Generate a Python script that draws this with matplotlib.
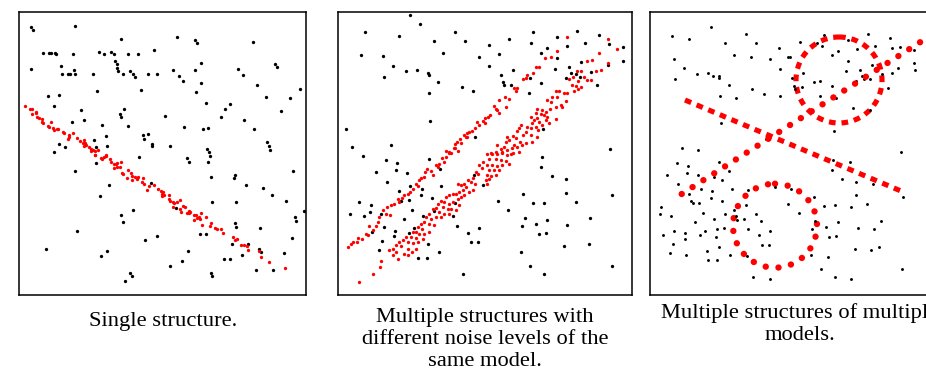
import numpy as np
import matplotlib
matplotlib.use("Agg")
import matplotlib.pyplot as plt
from matplotlib.patches import Circle

# all values in image pixel units (x right, y down)

# ---- panel 1: single structure ----
p1_noise = [
    (31.3, 26.7), (32.7, 30), (74.7, 26), (121.3, 39), (43.3, 53.3), (49.3, 53.3), (50.7, 53.3),
    (55.3, 52.7), (56.3, 53.7), (73.3, 53.7), (98.7, 51.7), (104.3, 53.7), (111, 51.7), (113.7, 53.7),
    (128.3, 53.7), (137.7, 53.7), (154.3, 50), (31.3, 69.3), (61.3, 66), (62.3, 73.7), (68, 73.7),
    (69.7, 73.7), (73.7, 70), (75.3, 73.7), (92.7, 73.7), (115.3, 60.7), (116.7, 64.3), (117.3, 67.7),
    (118, 71.3), (123.3, 73.7), (130, 71.3), (132.7, 73.7), (135.3, 76.7), (147.7, 73.7), (157, 73.7),
    (96.7, 91.3), (141, 89.7), (47.7, 96.3), (59.3, 95.3), (53.7, 105.7), (81.3, 110), (123.7, 108.7),
    (120, 113.7), (121, 117.3), (72, 121.7), (83.7, 120.3), (102.3, 124.7), (128, 126.3), (105.7, 135.7),
    (142.7, 135.3), (144, 139), (148.3, 134), (152.3, 144), (152.3, 145.7), (94, 140.3), (58.7, 144),
    (65.3, 147.3), (96, 147), (107.3, 145.7), (53.7, 152.3),
    (177, 37.3), (195.3, 39.7), (197, 43.3), (252.7, 42.3), (201, 63.3), (275.3, 63.7), (276.7, 67.3),
    (173.3, 70.3), (195.3, 70.3), (238.3, 69), (179, 75.7), (242.7, 75), (182.7, 81), (201, 83.3),
    (256.7, 85.3), (299.7, 89.3), (196.3, 91.7), (265.7, 96.7), (290, 97.7), (206, 103), (230, 104.3),
    (225.3, 109.3), (280.7, 110.7), (165.3, 115.7), (220.7, 117.3), (244.3, 120.3), (184.3, 126.7),
    (202.7, 129), (208.3, 127.7), (254.3, 129.3), (170, 145.7), (207, 148.7), (208.7, 152.3),
    (267.3, 142.3), (268.7, 145.7), (270.3, 149.7),
    (139.3, 156.7), (96.3, 162.7), (75.3, 171), (109, 185), (151.3, 183.3), (99.7, 196.3), (133, 210.3),
    (121.3, 214.7), (123.3, 222), (76.7, 230.7), (157.3, 235.7), (145.3, 240.3), (46.3, 249),
    (107.3, 251), (101, 256), (130.3, 273), (131.7, 276.3), (125, 281.3),
    (187, 158.3), (189, 162.3), (207.7, 162.3), (210.3, 156), (211.3, 176.7), (233.7, 177.7),
    (235.3, 175), (245.7, 184.7), (263, 187.7), (272, 195.3), (293.3, 171.3), (285.7, 200.7),
    (304, 211.3), (294.7, 217), (296.3, 220.7), (212, 201.7), (235.7, 202), (176, 208.3),
    (234.7, 223.3), (236.3, 227), (259.7, 227.7), (200, 234), (206, 234), (291.7, 238.3),
    (231.7, 244.3), (248.3, 244.3), (259, 248.7), (260.7, 252.3), (241.7, 254.7), (283.7, 253),
    (188.3, 250.7), (224, 259.3), (229.7, 259.3), (181.7, 260.7), (169.7, 265.7), (256, 269.7),
    (272.7, 269.7), (211, 272.7), (212.3, 276),
]
p1_inliers = [
    (25.3, 105.7), (30.3, 108.7), (32, 109.3), (31.7, 113.7), (36, 111.7), (36.3, 113.3), (37, 116.7),
    (39, 117.7), (42.3, 119), (42.3, 122), (42.7, 123.3), (50.7, 121.7), (47.7, 126.3), (49, 127.3),
    (53.3, 128), (53.7, 130), (57.3, 129.3), (58.3, 128.7), (62.7, 132), (64.3, 133.3), (69.3, 135),
    (68.7, 137), (67.7, 139), (73.3, 133.3), (77, 137.7), (80, 141), (83.3, 143.3), (84.3, 139.7),
    (85, 143.3), (83.7, 146), (85.7, 145), (89.3, 146.7), (90.7, 149.3), (91.3, 151.3), (93, 150),
    (95.3, 151.3), (98, 150.3), (94.7, 154.7), (105.7, 154.7), (94.7, 155.3), (100.7, 158),
    (102, 159.3), (104, 156.7), (106, 156), (109.7, 159.3), (110.7, 161.7), (114, 163.7), (115.7, 164),
    (117.3, 163), (114.3, 168), (117.3, 166.7), (120, 167), (121.3, 161.7), (123.3, 174), (122, 173.3),
    (127.3, 177.7), (127.7, 170.3), (130.7, 173), (132, 180.3), (132.3, 176), (135.3, 176.7),
    (137.3, 179.3), (138, 177.3), (142.7, 178), (142.3, 182), (143.7, 184.3), (147.3, 190),
    (148.7, 186), (154, 184.7), (157.7, 189), (162, 194), (161.3, 191.3), (162.7, 192.3), (164, 194.7),
    (162, 195.7), (168.7, 194.7), (169, 199), (169.7, 201.3), (173.3, 201.7), (174.3, 203),
    (177.3, 202.3), (180.3, 199.7), (180, 208.7), (173.3, 207), (182.7, 206), (185.3, 207.3),
    (181.3, 212), (189.3, 210.7), (189, 213), (190.3, 212), (186.7, 213.3), (194.3, 215.3),
    (196, 214.7), (197.3, 217.7), (199.3, 217.3), (200.3, 219), (193.7, 220), (201, 213.3),
    (206.3, 216.7), (201.7, 224.7), (211, 222.7), (209.7, 226), (215.3, 227.7), (217.3, 229.3),
    (221.3, 229.3), (222.7, 232.7), (233.3, 236.7), (235.3, 240.3), (237.3, 239.3), (240.7, 244.7),
    (244, 245), (247.3, 246), (248.3, 249.7), (258.7, 250.7), (261.3, 257.3), (269.3, 262.3),
    (285, 267.7),
]

# ---- panel 2: two structures, different noise ----
p2_noise = [
    (410, 15.3), (420.3, 24.3), (365, 32.3), (398.7, 36.3), (455, 31.7), (434.3, 40.7), (465.3, 40.7),
    (361, 54.7), (383, 56.3), (443.3, 53), (479, 56.7), (393.3, 65.7), (406, 71.3), (416.7, 70.3),
    (428, 72.7), (428.7, 75.3), (384.3, 76.7), (438.3, 82), (461.7, 86.7), (473.3, 91.3), (429, 93),
    (430.3, 120.7), (346.3, 129), (475, 137), (352.3, 147), (391, 145.3),
    (533, 32.3), (577, 31.3), (556.7, 36.7), (599, 35), (509.3, 39.3), (488.7, 45), (531, 43.3),
    (566.7, 46), (585, 43.3), (609, 44.3), (547.3, 48.3), (541.3, 52.7), (623.3, 47.3), (499, 54.3),
    (557.3, 57.7), (580.7, 62.3), (623.3, 61), (489.3, 66), (569, 67), (555, 69), (513, 70.3),
    (590.7, 71.7), (607.7, 65.3), (501.3, 75), (571.3, 73.3), (575.7, 74.3), (565.7, 78.3), (580, 76.7),
    (529.7, 78.3), (503, 81.7), (504.3, 85), (511.3, 84.7), (541.3, 83.3), (596.7, 85.3), (529, 93),
    (543, 128.7), (610.3, 148.7),
    (362.7, 156.3), (386, 160.3), (397, 163.3), (428.7, 158.7), (396.3, 169.7), (376.3, 172.3),
    (407.3, 172.7), (439.7, 168.7), (387, 181.7), (398.7, 190.7), (410, 186.3), (422, 188.7),
    (441, 186.3), (420.7, 195.3), (432.3, 197.7), (401.3, 200.7), (409, 200.3), (359.3, 202.3),
    (370.7, 204.7), (349.7, 213.7), (364.3, 215.7), (369.7, 211.7), (380.7, 214), (412, 210),
    (422.7, 215.7), (434, 211), (454.7, 203), (453.3, 216.3), (404.3, 218.7), (383.7, 227.3),
    (372, 232), (394.7, 230.7), (394.3, 235.7), (408.7, 232.7), (414.3, 228), (456.7, 226.3),
    (467.7, 232.7), (479.3, 228), (470.7, 242), (477.7, 242), (382, 241.3), (428, 244), (378.7, 250.3),
    (439.3, 252.3), (417.7, 258), (426.7, 258), (462.7, 274.3), (473.7, 175.3), (483, 184.7),
    (542.3, 157.3), (541.3, 167.3), (551.7, 176.3), (565.7, 179.3), (523.3, 194), (565.7, 192.7),
    (612, 194.7), (497.7, 200.7), (533.3, 203.3), (544, 203), (575.7, 201.7), (507.7, 210),
    (524.7, 218), (547.3, 219.7), (589.7, 218), (521.7, 226.3), (535.7, 224.3), (567.3, 224.7),
    (538.7, 234), (545.7, 233.3), (564, 246), (588.7, 244), (520.7, 252.3), (530.3, 266),
    (611.7, 266), (543.7, 274.3),
]
p2_low_noise = [
    (347.7, 247), (351, 243.7), (352.7, 242), (356.7, 242), (357.7, 238), (362, 238.7), (366, 233.7),
    (367.7, 235.3), (369.3, 226), (373.3, 230.3), (376, 226), (377.7, 222), (378.7, 217), (382.7, 210.3),
    (386, 213.7), (386.7, 207.3), (390, 214.7), (391, 205.3), (394.3, 203.7), (397.7, 199.3),
    (399.3, 202), (402, 198), (404.3, 195.3), (407.7, 193.7), (410, 192), (413.3, 188.7), (416, 183.7),
    (417.7, 186), (418.7, 180.3), (421, 178), (424.3, 177), (425.3, 172), (426.7, 168.7), (431, 171.3),
    (432.7, 175.3), (436, 164.7), (437.7, 167), (439.3, 163.7), (442, 158), (444.3, 162), (446, 157),
    (448.7, 152.7), (446, 151.3), (449.3, 152), (451, 153.3), (453.7, 148.3), (455.3, 148.3),
    (457.7, 150.7), (454.7, 144), (457.3, 141.7), (460, 139.3), (460.7, 142.7), (463.7, 135.3),
    (465.7, 136.7), (467.3, 136.7), (467, 133.3), (469.3, 131.7), (471.7, 130.7), (475.3, 127.7),
    (476.7, 121.7), (479, 124.7), (482.7, 121), (484.7, 118), (485, 123.3), (488, 117.3), (490, 115),
    (494, 106), (495.7, 108.7), (497.3, 110), (498.7, 112.7), (498.7, 100), (505.3, 97.3), (509, 99.3),
    (505.7, 106.7), (514, 88.3), (515.7, 91.3), (517.3, 88.3), (523.3, 79.3), (525.7, 77.7),
    (527.3, 75.3), (533.3, 72.7), (535.7, 67.3), (539.3, 67.3), (544.7, 57.7), (550.7, 56.7),
    (557.3, 50.7), (566.7, 36.7),
]
p2_high_noise = [
    (358.7, 282), (373.3, 273.7), (380, 267), (381, 261.3), (398.3, 259.3), (392.7, 255.3),
    (389.3, 250.3), (392.7, 248.7), (396, 252), (404.3, 253.7), (407.7, 255.3), (412, 252),
    (407.7, 248.7), (416, 248.7), (396, 245.3), (401, 246), (399.3, 242), (402.7, 240.3), (407.7, 242),
    (412.7, 242.7), (417.7, 242), (411, 237), (406, 237), (416, 238), (422.7, 239.3), (412.7, 232),
    (416, 232), (419.3, 233.7), (424.3, 233.7), (429.3, 232), (417.7, 227), (422, 229.3), (421, 223.7),
    (424.3, 222), (429.3, 223.7), (434.3, 224.7), (426, 217), (431, 218.7), (436, 217), (441, 217),
    (429.3, 213.7), (439.3, 212), (444.3, 213.7), (449.3, 213.7), (432.7, 208.7), (436, 208),
    (442.7, 207), (447.7, 208.7), (451, 208.7), (456, 210.3), (459.3, 205.3), (437.7, 203.7),
    (441, 201.3), (444.3, 202), (449.3, 203.7), (452.7, 202), (457.7, 198.7), (446, 197), (449.3, 195.3),
    (452.7, 193.7), (456, 193.7), (459.3, 192), (461, 197), (464.3, 195.3), (462.7, 190.3), (466, 187),
    (469.3, 192), (472.7, 190.3), (461, 185.3), (464.3, 183.7), (457.7, 183.7), (467.7, 180.3),
    (471, 182), (475.3, 183.7), (473.3, 178), (476, 172), (477.7, 173.7), (479.3, 165.3), (482, 168),
    (482.7, 162), (485.7, 180.3), (487.3, 184.3), (489, 179.3), (486.7, 174.7), (490.7, 176),
    (495.7, 175.3), (489, 170.3), (494, 170.3), (499, 170.3), (487.3, 165.3), (492.3, 165.3),
    (497.3, 166), (502.3, 165.3), (489, 159.3), (495.7, 159.3), (500.7, 160.3), (505.7, 161.3),
    (509, 163.7), (487.3, 153.7), (492.3, 153.7), (497.3, 153.7), (502.3, 152), (507.3, 154.7),
    (510.7, 153.7), (490.7, 152.7), (495.7, 151.7), (502.3, 153.3), (500.7, 149.3), (504, 146.7),
    (507.3, 150), (497.3, 145), (512.3, 148.3), (513.3, 153.3), (519, 151.7), (514, 145),
    (517.3, 146.7), (522.3, 145), (505.7, 141.7), (509, 140), (507.3, 137.3), (513.3, 136),
    (515.7, 138.3), (520, 141.7), (525.7, 143.3), (532.3, 141.7), (517.3, 130.7), (519, 128.3),
    (520.7, 125), (525.7, 131.7), (523.3, 135), (530.7, 135), (537.3, 136.7), (526.7, 126.7),
    (530.7, 128.3), (535.7, 126.7), (538, 130), (532.3, 123.3), (534, 120), (530.7, 117.3),
    (537.3, 118.3), (539, 121.7), (542.3, 125), (549, 123.3), (545.7, 120), (535.7, 113.3),
    (540.7, 114), (544, 115), (547.3, 116.7), (555.7, 119.3), (537.3, 108.7), (542.3, 110),
    (545.7, 111.7), (550, 108.7), (555.7, 106.7), (562.3, 106.7), (561.3, 104.7), (547.3, 100),
    (550.7, 101.7), (565.7, 100.7), (552.3, 97.3), (557.3, 97.3), (555.7, 91), (559, 91), (564, 93.3),
    (567.3, 93.3), (574, 90.7), (578.3, 88.7), (572.3, 85.3), (576.3, 86), (580.7, 86.7), (569, 79.3),
    (573, 76.7), (578, 80.7), (584, 76.7), (587.3, 80), (590.7, 80), (577.3, 70.7), (580.7, 70.7),
    (596, 70.7), (601.3, 70), (586.7, 60.7), (591.7, 60), (599, 53.3), (607.7, 63.3), (608.3, 39.3),
    (617.3, 49.3),
]

# ---- panel 3: several structures of several models ----
p3_noise = [
    (711, 26.7), (672, 36), (689.3, 39), (745.7, 33.7), (725, 43), (756, 43.3), (779.3, 47.7),
    (673.7, 59.3), (734, 55.3), (750.7, 57.3), (769.7, 59.3), (788.3, 57), (684.3, 68.3), (696.7, 74),
    (707.7, 72.7), (713, 75.7), (718.7, 75.7), (719.3, 78), (780.3, 69), (675, 79.3), (729, 84.7),
    (752.3, 89.3), (764, 94.3), (780.3, 96), (719.7, 96), (736, 97.7), (721, 123.3), (765.7, 139.3),
    (782.3, 141), (681.7, 148), (698, 149.7),
    (823.7, 35.3), (867.7, 33.7), (799.7, 42.3), (816.7, 43.3), (821.7, 46), (847.7, 40), (889.7, 37.7),
    (875.3, 46), (857.3, 49), (891.7, 47.7), (900.3, 47), (914, 50), (789.7, 57), (832, 55.3),
    (837.7, 51.3), (848, 60.7), (872, 64.7), (914, 63.3), (915, 70), (898.3, 68.3), (892, 73.3),
    (846, 71.3), (859.7, 69.7), (881.7, 74.3), (803.3, 73), (792, 78), (794, 86.3), (795.3, 88.7),
    (802, 87), (813.7, 82.3), (820, 81), (832, 86), (856.3, 80.7), (862, 76.3), (863.7, 79.3),
    (870, 79), (887.7, 87.7), (819.7, 96), (836, 98), (853.3, 108), (869.7, 109.7), (833.7, 131),
    (901.3, 151.7),
    (677, 163), (688, 166), (687.3, 172.7), (719.3, 161.7), (729.3, 171), (667.3, 175), (698.3, 175.3),
    (714.3, 177.3), (721.7, 180), (677.7, 184.3), (701.3, 188.7), (689.3, 193.7), (712.3, 191.3),
    (731.7, 189), (748.3, 190.3), (711, 197.7), (691.3, 200.7), (692.7, 203), (699.3, 202.7),
    (722, 200.7), (661.3, 207.3), (660.3, 214), (671.3, 216.3), (703, 212.7), (725.3, 214.3),
    (734.3, 209.7), (736.3, 216.3), (737.3, 220), (744.3, 219), (756, 214.3), (745.7, 205.3),
    (775, 186.7), (788.3, 203.7), (695, 221.7), (713.7, 219), (760.7, 221), (674.3, 230.7),
    (685.3, 232.7), (685.3, 238.7), (700, 234.7), (705.3, 230.7), (716.7, 229), (723.7, 228.3),
    (747.7, 229), (758.7, 235), (770.3, 230.7), (662.7, 234.7), (716.3, 236.7), (672.7, 244),
    (719, 246.7), (761.7, 244.7), (768.7, 244.7), (669.7, 253.3), (685.7, 255), (707.3, 251),
    (730.3, 255.3), (746.7, 256.3), (708.3, 260.3), (717.3, 260.3), (753.3, 277), (769.7, 278.7),
    (833.3, 160), (849.7, 161.7), (832, 169.7), (842.3, 179), (856, 182), (872.7, 183.7), (790.7, 189),
    (856, 195), (902.7, 197.3), (814, 196.7), (824, 205.7), (835, 205.3), (851.3, 207), (866.7, 204.3),
    (798.7, 212.7), (815.3, 220.7), (838, 222.3), (880.7, 220.7), (812.3, 229), (826.3, 227),
    (858, 227.7), (874, 229), (829.3, 236.7), (836.3, 236), (854.7, 249), (871.3, 250.3), (879, 246.7),
    (811, 255), (827.7, 256.7), (821, 268.7), (834.7, 277), (851, 278.7), (902.3, 268.7),
]
p3_line_dashed = [(685, 100), (901, 191)]
p3_line_dotted = [(681.7, 194), (944, 27)]
p3_circle_dashed = (839, 80, 43)    # centre x, centre y, radius
p3_circle_dotted = (775, 225.7, 42)

captions = [
    "Single structure.",
    "Multiple structures with\ndifferent noise levels of the\nsame model.",
    "Multiple structures of multiple\nmodels.",
]

# frame boxes of the three panels in image pixels: left, right, top, bottom
frames = [(19, 306, 12, 295), (338, 632, 12, 295), (650, 944, 12, 295)]
caption_pos = [(163, 312), (485, 308), (800, 303)]

W, H = 926, 377
RED = "#ff0000"

fig = plt.figure(figsize=(W / 100, H / 100), dpi=100)
plt.rcParams["font.family"] = ["Liberation Serif", "DejaVu Serif"]


def make_axes(frame):
    l, r, t, b = frame
    ax = fig.add_axes([l / W, 1 - b / H, (r - l) / W, (b - t) / H])
    ax.set_xlim(l, r)
    ax.set_ylim(b, t)
    ax.set_xticks([])
    ax.set_yticks([])
    for s in ax.spines.values():
        s.set_linewidth(1.1)
        s.set_color("black")
    return ax


def scatter(ax, pts, color, ms):
    a = np.array(pts)
    ax.plot(a[:, 0], a[:, 1], "o", color=color, ms=ms, mew=0, clip_on=False)


ax1 = make_axes(frames[0])
scatter(ax1, p1_noise, "black", 2.4)
scatter(ax1, p1_inliers, RED, 2.4)

ax2 = make_axes(frames[1])
scatter(ax2, p2_noise, "black", 2.4)
scatter(ax2, p2_low_noise, RED, 2.4)
scatter(ax2, p2_high_noise, RED, 2.4)

ax3 = make_axes(frames[2])
scatter(ax3, p3_noise, "black", 2.1)
dash = (0, (1.3, 1.15))
dot = (0, (0.01, 2.0))
ld = np.array(p3_line_dashed)
ax3.plot(ld[:, 0], ld[:, 1], color=RED, lw=3.7, linestyle=dash, dash_capstyle="butt")
lo = np.array(p3_line_dotted)
ax3.plot(lo[:, 0], lo[:, 1], color=RED, lw=4.6, linestyle=dot, dash_capstyle="round")
cx, cy, r = p3_circle_dashed
ax3.add_patch(Circle((cx, cy), r, fill=False, edgecolor=RED, lw=3.7, linestyle=dash,
                     capstyle="butt"))
cx, cy, r = p3_circle_dotted
ax3.add_patch(Circle((cx, cy), r, fill=False, edgecolor=RED, lw=4.6, linestyle=dot,
                     capstyle="round"))

for text, (x, y) in zip(captions, caption_pos):
    fig.text(x / W, 1 - y / H, text, ha="center", va="top", fontsize=16.2,
             linespacing=1.2, color="black")

fig.savefig("out.png", dpi=100)
